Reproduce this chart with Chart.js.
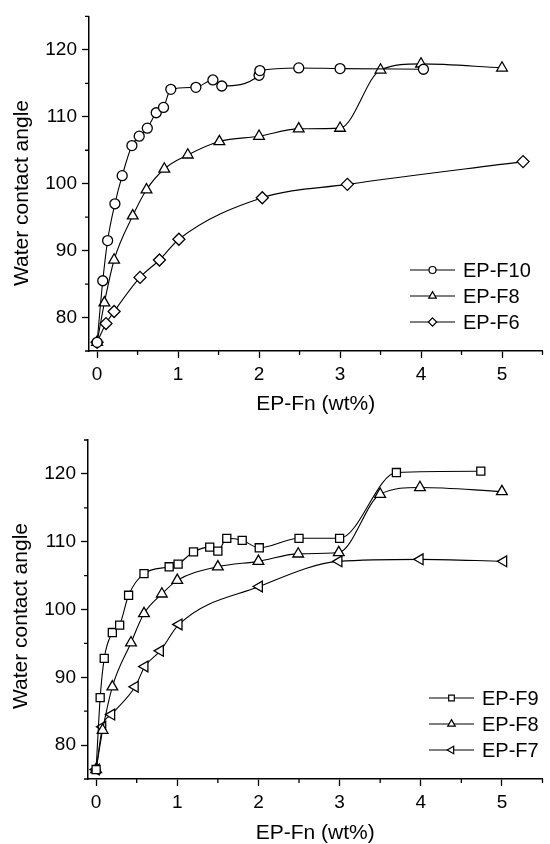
<!DOCTYPE html>
<html lang="en">
<head>
<meta charset="UTF-8">
<title>Water contact angle vs EP-Fn content</title>
<script src="https://cdn.jsdelivr.net/npm/chart.js"></script>
<style>
    html, body { margin: 0; padding: 0; background: #fff; }
    .panel { position: absolute; left: 0; width: 550px; height: 422px; }
    #topPanel { top: 0; }
    #bottomPanel { top: 422px; }
</style>
</head>
<body>
<div class="panel" id="topPanel"><canvas id="chartTop" width="550" height="422"></canvas></div>
<div class="panel" id="bottomPanel"><canvas id="chartBottom" width="550" height="422"></canvas></div>
<script>
// tick labels (major) and tick marks along x (major + minor)
const xTicks = [0, 1, 2, 3, 4, 5];
const xTickMarks = [0, 0.5, 1, 1.5, 2, 2.5, 3, 3.5, 4, 4.5, 5, 5.5];
const yTicks = [80, 90, 100, 110, 120];
const xTitle = 'EP-Fn (wt%)';
const yTitle = 'Water contact angle';

// top panel
const topNames = ['EP-F10', 'EP-F8', 'EP-F6'];
const f10X = [0, 0.07, 0.13, 0.22, 0.31, 0.43, 0.52, 0.62, 0.73, 0.82, 0.91, 1.22, 1.43, 1.54, 2.0, 2.01, 2.49, 3.0, 4.03];
const f10Y = [76.3, 85.5, 91.5, 97.0, 101.2, 105.7, 107.1, 108.3, 110.6, 111.4, 114.1, 114.4, 115.5, 114.6, 116.2, 116.9, 117.3, 117.2, 117.1];
const f8aX = [0, 0.09, 0.21, 0.44, 0.61, 0.83, 1.12, 1.51, 2.0, 2.49, 3.0, 3.5, 4.0, 5.0];
const f8aY = [76.3, 82.2, 88.6, 95.2, 99.1, 102.2, 104.3, 106.3, 107.1, 108.2, 108.3, 117.0, 117.9, 117.3];
const f6X = [0, 0.11, 0.21, 0.53, 0.77, 1.01, 2.04, 3.09, 5.26];
const f6Y = [76.3, 79.1, 80.9, 86.0, 88.6, 91.7, 97.9, 99.9, 103.3];

// bottom panel
const bottomNames = ['EP-F9', 'EP-F8', 'EP-F7'];
const f9X = [0, 0.05, 0.10, 0.20, 0.29, 0.40, 0.59, 0.90, 1.01, 1.20, 1.40, 1.50, 1.61, 1.80, 2.01, 2.50, 3.0, 3.70, 4.74];
const f9Y = [76.4, 87.0, 92.8, 96.6, 97.7, 102.1, 105.3, 106.3, 106.7, 108.5, 109.2, 108.6, 110.5, 110.2, 109.1, 110.5, 110.5, 120.2, 120.4];
const f8bX = [0, 0.08, 0.20, 0.43, 0.59, 0.81, 1.0, 1.5, 2.0, 2.49, 2.99, 3.5, 3.99, 5.0];
const f8bY = [76.4, 82.2, 88.6, 95.1, 99.4, 102.3, 104.3, 106.3, 107.1, 108.2, 108.4, 117.0, 118.0, 117.4];
const f7X = [0, 0.08, 0.19, 0.48, 0.60, 0.79, 1.02, 2.01, 2.99, 3.99, 5.02];
const f7Y = [76.4, 82.7, 84.5, 88.6, 91.6, 93.9, 97.8, 103.4, 107.1, 107.4, 107.1];

Chart.defaults.font.family = '"Liberation Sans", Arial, sans-serif';
Chart.defaults.color = '#000';

// float-safe lookup in a tick list
const major = (list, v) => list.some(t => Math.abs(t - v) < 1e-6);

function series(label, xs, ys, style, rot, r) {
    return {
        label: label,
        data: xs.map((x, i) => ({ x: x, y: ys[i] })),
        showLine: true,
        borderColor: '#000',
        borderWidth: 1.1,
        cubicInterpolationMode: 'monotone',
        pointStyle: style,
        pointRotation: rot,
        pointRadius: r,
        pointHoverRadius: r,
        pointBackgroundColor: '#fff',
        pointBorderColor: '#000',
        pointBorderWidth: 1.3
    };
}

// small marker drawer for the legend
function marker(ctx, style, rot, x, y, r) {
    ctx.save();
    ctx.translate(x, y);
    ctx.rotate(rot * Math.PI / 180);
    ctx.beginPath();
    if (style === 'circle') {
        ctx.arc(0, 0, r, 0, Math.PI * 2);
    } else if (style === 'triangle') {
        ctx.moveTo(0, -r);
        ctx.lineTo(r * 0.866, r * 0.5);
        ctx.lineTo(-r * 0.866, r * 0.5);
        ctx.closePath();
    } else if (style === 'rectRot') {
        ctx.moveTo(0, -r); ctx.lineTo(r, 0); ctx.lineTo(0, r); ctx.lineTo(-r, 0);
        ctx.closePath();
    } else {
        const s = r * Math.SQRT1_2;
        ctx.rect(-s, -s, 2 * s, 2 * s);
    }
    ctx.fillStyle = '#fff';
    ctx.fill();
    ctx.lineWidth = 1.2;
    ctx.strokeStyle = '#000';
    ctx.stroke();
    ctx.restore();
}

const decor = {
    id: 'decor',
    afterDraw(chart, args, opts) {
        const ctx = chart.ctx, a = chart.chartArea;
        const xs = chart.scales.x, ys = chart.scales.y;
        ctx.save();
        // minor ticks
        ctx.strokeStyle = '#000';
        ctx.lineWidth = 1.3;
        ctx.beginPath();
        xs.ticks.forEach(t => {
            if (!major(xTicks, t.value)) {
                const px = xs.getPixelForValue(t.value);
                ctx.moveTo(px, a.bottom); ctx.lineTo(px, a.bottom + 4);
            }
        });
        ys.ticks.forEach(t => {
            if (!major(yTicks, t.value)) {
                const py = ys.getPixelForValue(t.value);
                ctx.moveTo(a.left, py); ctx.lineTo(a.left - 4, py);
            }
        });
        ctx.stroke();

        // axis titles
        ctx.fillStyle = '#000';
        ctx.font = '21px "Liberation Sans", Arial, sans-serif';
        ctx.textAlign = 'center';
        ctx.textBaseline = 'middle';
        ctx.fillText(xTitle, (a.left + a.right) / 2, opts.xTitleY);
        ctx.save();
        ctx.translate(opts.yTitleX, opts.yTitleY);
        ctx.rotate(-Math.PI / 2);
        ctx.fillText(yTitle, 0, 0);
        ctx.restore();

        // legend
        ctx.font = '20px "Liberation Sans", Arial, sans-serif';
        ctx.textAlign = 'left';
        chart.data.datasets.forEach((ds, i) => {
            const y = opts.legendY + i * 26;
            const x0 = opts.legendX, x1 = x0 + 45;
            ctx.lineWidth = 1.1;
            ctx.beginPath();
            ctx.moveTo(x0, y); ctx.lineTo(x1, y);
            ctx.stroke();
            marker(ctx, ds.pointStyle, ds.pointRotation, (x0 + x1) / 2, y, ds.pointRadius * 0.7);
            ctx.fillStyle = '#000';
            ctx.fillText(ds.label, x1 + 8, y + 1);
        });
        ctx.restore();
    }
};

function makeOptions(yWidth, xHeight, padTop, deco) {
    return {
        responsive: false,
        animation: false,
        layout: { padding: { top: padTop, right: 0, left: 0, bottom: 0 } },
        plugins: { legend: { display: false }, tooltip: { enabled: false }, decor: deco },
        scales: {
            x: {
                type: 'linear', min: -0.1, max: 5.5,
                afterBuildTicks: s => { s.ticks = xTickMarks.map(v => ({ value: v })); },
                ticks: {
                    autoSkip: false, maxRotation: 0, padding: 5,
                    font: { size: 19 }, color: '#000',
                    callback: v => major(xTicks, v) ? String(Math.round(v)) : ''
                },
                grid: {
                    drawOnChartArea: false, tickLength: 7, tickWidth: 1.3,
                    tickColor: c => major(xTicks, c.tick.value) ? '#000' : 'rgba(0,0,0,0)'
                },
                border: { color: '#000', width: 1.5 },
                afterFit: s => { s.height = xHeight; }
            },
            y: {
                min: 75, max: 125,
                ticks: {
                    stepSize: 5, padding: 5, font: { size: 19 }, color: '#000',
                    callback: v => major(yTicks, v) ? String(Math.round(v)) : ''
                },
                grid: {
                    drawOnChartArea: false, tickLength: 7, tickWidth: 1.3,
                    tickColor: c => major(yTicks, c.tick.value) ? '#000' : 'rgba(0,0,0,0)'
                },
                border: { color: '#000', width: 1.5 },
                afterFit: s => { s.width = yWidth; }
            }
        }
    };
}

new Chart(document.getElementById('chartTop'), {
    type: 'scatter',
    data: {
        datasets: [
            series(topNames[0], f10X, f10Y, 'circle', 0, 5),
            series(topNames[1], f8aX, f8aY, 'triangle', 0, 6.2),
            series(topNames[2], f6X, f6Y, 'rectRot', 0, 6)
        ]
    },
    options: makeOptions(89, 71, 11, { xTitleY: 404, yTitleX: 22, yTitleY: 193, legendX: 410, legendY: 270 }),
    plugins: [decor]
});

new Chart(document.getElementById('chartBottom'), {
    type: 'scatter',
    data: {
        datasets: [
            series(bottomNames[0], f9X, f9Y, 'rect', 0, 5.7),
            series(bottomNames[1], f8bX, f8bY, 'triangle', 0, 6.2),
            series(bottomNames[2], f7X, f7Y, 'triangle', -90, 6.2)
        ]
    },
    options: makeOptions(88, 65, 18, { xTitleY: 411, yTitleX: 21, yTitleY: 194, legendX: 429, legendY: 276 }),
    plugins: [decor]
});
</script>
</body>
</html>
